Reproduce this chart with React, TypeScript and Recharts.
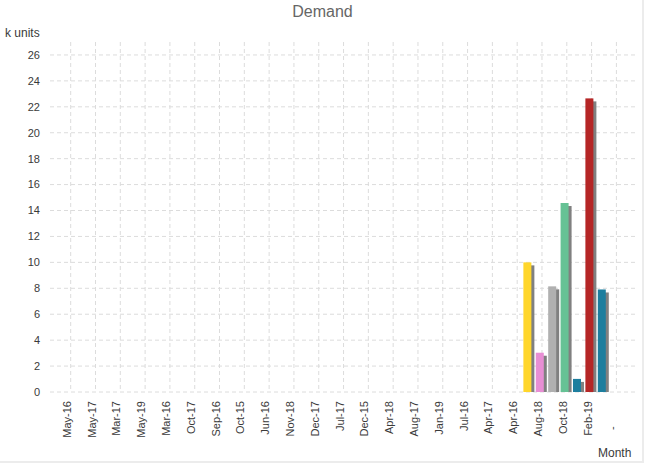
import React from 'react';
import { BarChart, Bar, XAxis, YAxis, CartesianGrid, Cell } from 'recharts';

const months = [
  'May-16', 'May-17', 'Mar-17', 'May-19', 'Mar-16', 'Oct-17', 'Sep-16', 'Oct-15',
  'Jun-16', 'Nov-18', 'Dec-17', 'Jul-17', 'Dec-15', 'Apr-18', 'Aug-17', 'Jan-19',
  'Jul-16', 'Apr-17', 'Apr-16', 'Aug-18', 'Oct-18', 'Feb-19', '-',
];

// values (k units), in left-to-right order
const demand = [10.0, 3.03, 8.15, 14.58, 1.01, 22.65, 7.91];
const demandColors = ['#FFD62B', '#E88ED4', '#B0B0B0', '#66C295', '#1D7E9E', '#B52626', '#1D7E9E'];
// bars sit on half steps between month labels, starting after Apr-16
const firstBarSlot = 37;

const yTicks = [0, 2, 4, 6, 8, 10, 12, 14, 16, 18, 20, 22, 24, 26];

const font = '"Liberation Sans", Arial, sans-serif';
const textColor = '#3a3a3a';

// two slots per month: even slot carries the label, odd one is the half step
const slots = Array.from({ length: months.length * 2 }, (_, k) => {
  const b = k - firstBarSlot;
  return {
    slot: k,
    value: b >= 0 && b < demand.length ? demand[b] : null,
    color: b >= 0 && b < demandColors.length ? demandColors[b] : 'none',
  };
});

const ShadowBar = (props: any) => {
  const { x, y, width, height, fill } = props;
  if (!height || height <= 0) return null;
  return (
    <g>
      <rect x={x + 1} y={y + 3} width={width} height={height - 3} fill="#808080" />
      <rect x={x - 2} y={y} width={width} height={height} fill={fill} />
    </g>
  );
};

const MonthTick = (props: any) => {
  const { x, y, payload } = props;
  const label = months[Math.floor(payload.value / 2)];
  if (payload.value % 2 !== 0 || label === undefined) return null;
  const isNull = label === '-';
  const ty = isNull ? y + 38 : y + 9;
  return (
    <text
      x={x}
      y={ty}
      transform={`rotate(-90, ${x}, ${ty})`}
      textAnchor={isNull ? 'start' : 'end'}
      fontSize={11}
      fontFamily={font}
      fill={textColor}
    >
      {label}
    </text>
  );
};

export default function App() {
  return (
    <div style={{ position: 'absolute', left: 0, top: 0, width: 645, height: 468, background: '#fff', fontFamily: font }}>
      <div style={{ position: 'absolute', left: 0, top: 0, width: 642, height: 461, borderRight: '2px solid #ececec', borderBottom: '2px solid #ececec' }} />
      <div style={{ position: 'absolute', left: 0, width: 645, top: 3, textAlign: 'center', fontSize: 16, color: '#666' }}>Demand</div>
      <div style={{ position: 'absolute', left: 5, top: 26, fontSize: 12, color: textColor }}>k units</div>
      <div style={{ position: 'absolute', left: 598, top: 446, fontSize: 12, color: textColor }}>Month</div>
      <BarChart
        width={645}
        height={468}
        data={slots}
        margin={{ top: 42, right: 9, bottom: 0, left: 0 }}
        style={{ position: 'absolute', left: 0, top: 0 }}
      >
        <CartesianGrid stroke="#dcdcdc" strokeDasharray="4 3" syncWithTicks />
        <XAxis
          dataKey="slot"
          type="category"
          interval={1}
          height={76}
          padding={{ left: 14.5, right: 1 }}
          axisLine={false}
          tickLine={false}
          tickSize={0}
          tickMargin={0}
          tick={<MonthTick />}
        />
        <YAxis
          width={50}
          domain={[0, 27]}
          ticks={yTicks}
          axisLine={false}
          tickLine={false}
          tickSize={0}
          tickMargin={10}
          tick={{ fontSize: 11, fill: textColor, fontFamily: font }}
        />
        <Bar dataKey="value" barSize={8} isAnimationActive={false} shape={<ShadowBar />}>
          {slots.map((s) => (
            <Cell key={s.slot} fill={s.color} />
          ))}
        </Bar>
      </BarChart>
    </div>
  );
}
